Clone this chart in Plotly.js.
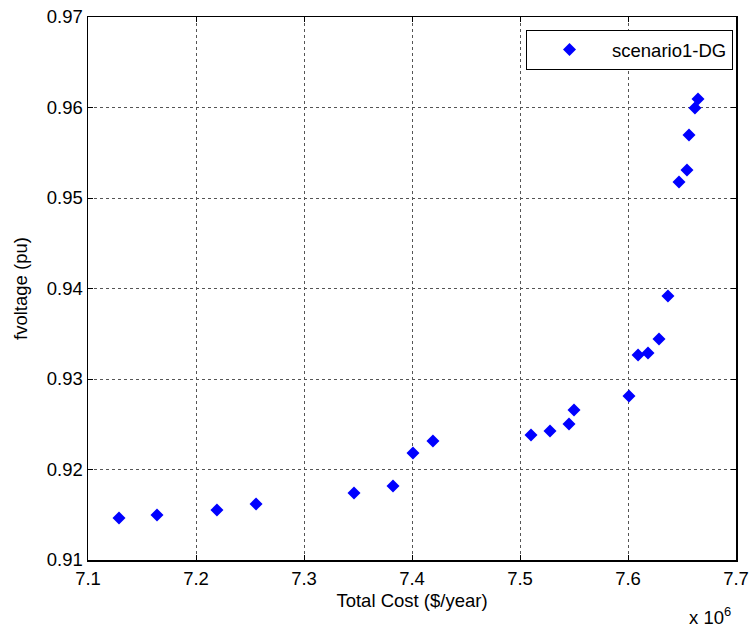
<!DOCTYPE html>
<html>
<head>
<meta charset="utf-8">
<script src="https://cdn.plot.ly/plotly-3.0.1.min.js"></script>
<style>html,body{margin:0;padding:0;background:#fff;}#chart{width:751px;height:628px;}</style>
</head>
<body>
<div id="chart"></div>
<script>
// Total cost in units of 1e6 $/year
const totalCost = [7.1287, 7.1639, 7.2194, 7.2556, 7.3463, 7.3824, 7.4009, 7.4194,
  7.5102, 7.5278, 7.5454, 7.5500, 7.6009, 7.6093, 7.6185, 7.6287, 7.6370,
  7.6472, 7.6546, 7.6565, 7.6620, 7.6648];
const fvoltage = [0.91464, 0.91497, 0.91552, 0.91619, 0.91740, 0.91818, 0.92182, 0.92315,
  0.92381, 0.92425, 0.92503, 0.92657, 0.92812, 0.93265, 0.93287, 0.93442, 0.93917,
  0.95177, 0.95309, 0.95696, 0.95994, 0.96094];
const seriesName = 'scenario1-DG';
const xTicks = [7.1, 7.2, 7.3, 7.4, 7.5, 7.6, 7.7];
const yTicks = [0.91, 0.92, 0.93, 0.94, 0.95, 0.96, 0.97];

const font = {family: 'Liberation Sans, Arial, sans-serif', size: 18.5, color: '#000'};

const trace = {
  x: totalCost, y: fvoltage, type: 'scatter', mode: 'markers', name: seriesName,
  marker: {symbol: 'diamond', size: 10, color: '#0000ff', line: {width: 0}}
};

const axisCommon = {
  showline: true, linecolor: '#000', linewidth: 1.5, mirror: 'ticks',
  ticks: 'inside', ticklen: 5, tickcolor: '#000',
  showgrid: true, gridcolor: '#555', griddash: 'dot', gridwidth: 1,
  zeroline: false, tickfont: font
};

const layout = {
  width: 751, height: 628,
  margin: {l: 88, r: 15, t: 17, b: 68},
  paper_bgcolor: '#fff', plot_bgcolor: '#fff',
  font: font,
  showlegend: true,
  legend: {x: 0.9954, y: 0.976, xanchor: 'right', yanchor: 'top',
    bordercolor: '#000', borderwidth: 1, bgcolor: '#fff', font: font,
    itemwidth: 75, tracegroupgap: 0},
  xaxis: Object.assign({}, axisCommon, {
    range: [7.1, 7.7], tickvals: xTicks, ticktext: xTicks.map(v => v.toFixed(1)),
    ticklabelstandoff: 1,
    title: {text: 'Total Cost ($/year)', font: font, standoff: 6}
  }),
  yaxis: Object.assign({}, axisCommon, {
    range: [0.91, 0.97], tickvals: yTicks, ticktext: yTicks.map(v => v.toFixed(2)),
    title: {text: 'fvoltage (pu)', font: font, standoff: 14}
  }),
  annotations: [{
    xref: 'paper', yref: 'paper', x: 0.995, y: 0, xanchor: 'right', yanchor: 'top',
    yshift: -42, text: 'x 10<sup>6</sup>', showarrow: false, font: font
  }]
};

Plotly.newPlot('chart', [trace], layout, {displayModeBar: false, staticPlot: true});
</script>
</body>
</html>
